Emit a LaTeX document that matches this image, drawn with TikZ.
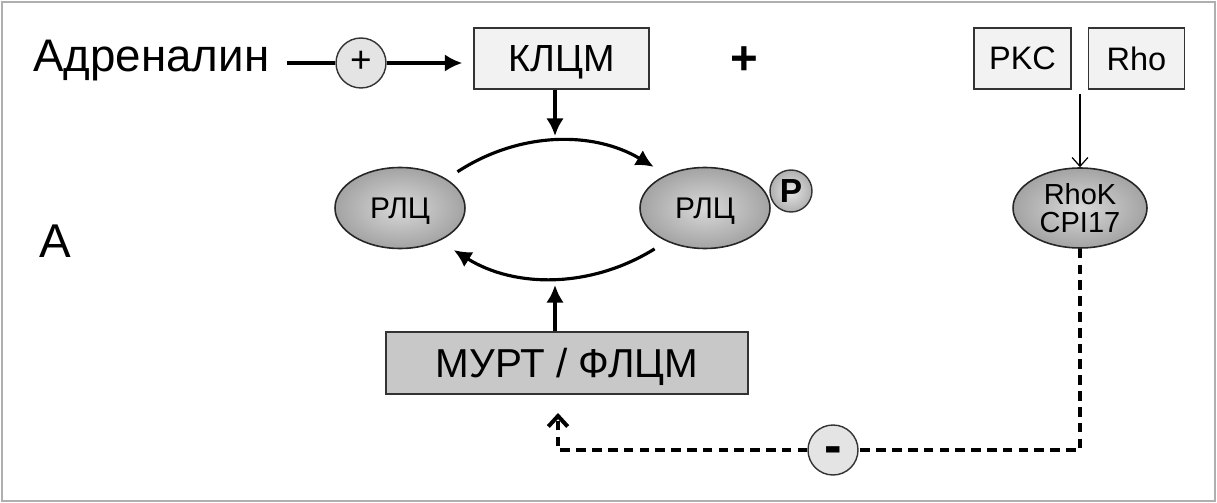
\documentclass[tikz,border=0pt]{standalone}
\usepackage{fontspec}
\setmainfont{Liberation Sans}
\usetikzlibrary{arrows.meta,positioning,calc,shapes.geometric}
\definecolor{boxgray}{RGB}{242,242,242}
\definecolor{darkbox}{RGB}{200,200,200}
\definecolor{signgray}{RGB}{228,228,228}
\definecolor{framegray}{RGB}{175,175,175}

\begin{document}
\begin{tikzpicture}[
  x=0.02cm, y=-0.02cm,
  box/.style={
    draw=black!80,
    fill=boxgray,
    line width=.8pt,
    minimum height=1.22cm,
    inner sep=0pt,
    text depth=0pt,
    font=\fontsize{21.5}{25}\selectfont
  },
  prot/.style={
    ellipse,
    draw=black!85,
    line width=.9pt,
    inner sep=0pt,
    text depth=0pt,
    inner color=gray!30,
    outer color=gray!72,
    minimum width=2.6cm,
    minimum height=1.62cm,
    font=\fontsize{17}{20}\selectfont
  },
  sign/.style={circle,draw=black!80,fill=signgray,line width=.8pt,
    minimum size=1cm,inner sep=0pt,text depth=0pt},
  conn/.style={-{Latex[length=10pt,width=10pt]},line width=2pt},
  inhib/.style={line width=2.3pt,dash pattern=on 5.5pt off 3.5pt}
]
\useasboundingbox (0,0) rectangle (1217,503);
\draw[framegray,line width=1pt] (2,2) rectangle (1215,501);

% top row
\node[anchor=base west,inner sep=0pt,font=\fontsize{26}{31}\selectfont]
  (adr) at (33,72) {Адреналин};
\node[sign,text height=11pt,font=\fontsize{21}{24}\selectfont] (plus) at (361,63) {+};
\node[box,minimum width=3.5cm] (klcm) at (561.5,58.5) {КЛЦМ};
\node[font=\bfseries\fontsize{27}{32}\selectfont] (and) at (744,61) {+};
\node[box,minimum width=1.94cm,font=\fontsize{18.5}{22}\selectfont]
  (pkc) at (1022.5,58.5) {PKC};
\node[box,minimum width=1.92cm,font=\fontsize{18.5}{22}\selectfont,
  right=0.32cm of pkc] (rho) {Rho};

% cycle
\node[prot] (rlc1) at (400,208) {РЛЦ};
\node[circle,draw=black!80,line width=.8pt,inner sep=0pt,minimum size=.84cm,
  inner color=gray!20,outer color=gray!62,
  font=\bfseries\fontsize{19}{22}\selectfont] (pho) at (791,191) {P};
\node[prot] (rlc2) at (705,208) {РЛЦ};
\node[prot,minimum width=2.68cm,minimum height=1.6cm,align=center,
  font=\fontsize{16.5}{16.5}\selectfont] (rhok) at (1080,208) {RhoK\\CPI17};
\node[box,fill=darkbox,minimum width=7.24cm,minimum height=1.24cm,
  font=\fontsize{23}{27}\selectfont] (murt) at (567,363) {МУРТ / ФЛЦМ};
\node[sign,text height=15pt,font=\bfseries\fontsize{30}{34}\selectfont]
  (minus) at (833,450) {-};
\node[anchor=base west,inner sep=0pt,font=\fontsize{27}{32}\selectfont]
  (lbla) at (39,257) {A};

\coordinate (ktip) at (555,136);
\coordinate (mtip) at (555,285);
\coordinate (ftip) at (558,413);

\draw[line width=1.8pt,shorten <=0.34cm] (adr.east |- plus) -- (plus.west);
\draw[conn,shorten >=0.22cm] (plus.east) -- (plus.east -| klcm.west);
\draw[conn] (klcm.south -| ktip) -- (ktip);
\draw[conn,line width=1.8pt,shorten <=0.26cm,shorten >=0.3cm]
  (rlc1.32) to[bend left=32] (rlc2.139);
\draw[conn,line width=1.8pt,shorten <=0.28cm,shorten >=0.34cm]
  (rlc2.221) to[bend left=32] (rlc1.-40);
\draw[conn] (murt.north -| mtip) -- (mtip);
\draw[-{Straight Barb[length=5pt,width=9pt]},line width=.7pt,shorten <=0.08cm]
  (rhok.north |- pkc.south) -- (rhok.north);
\draw[inhib] (rhok.south) |- (minus.east);
\draw[inhib,-{Straight Barb[length=6pt,width=11pt]}] (minus.west) -| (ftip);
\end{tikzpicture}
\end{document}
